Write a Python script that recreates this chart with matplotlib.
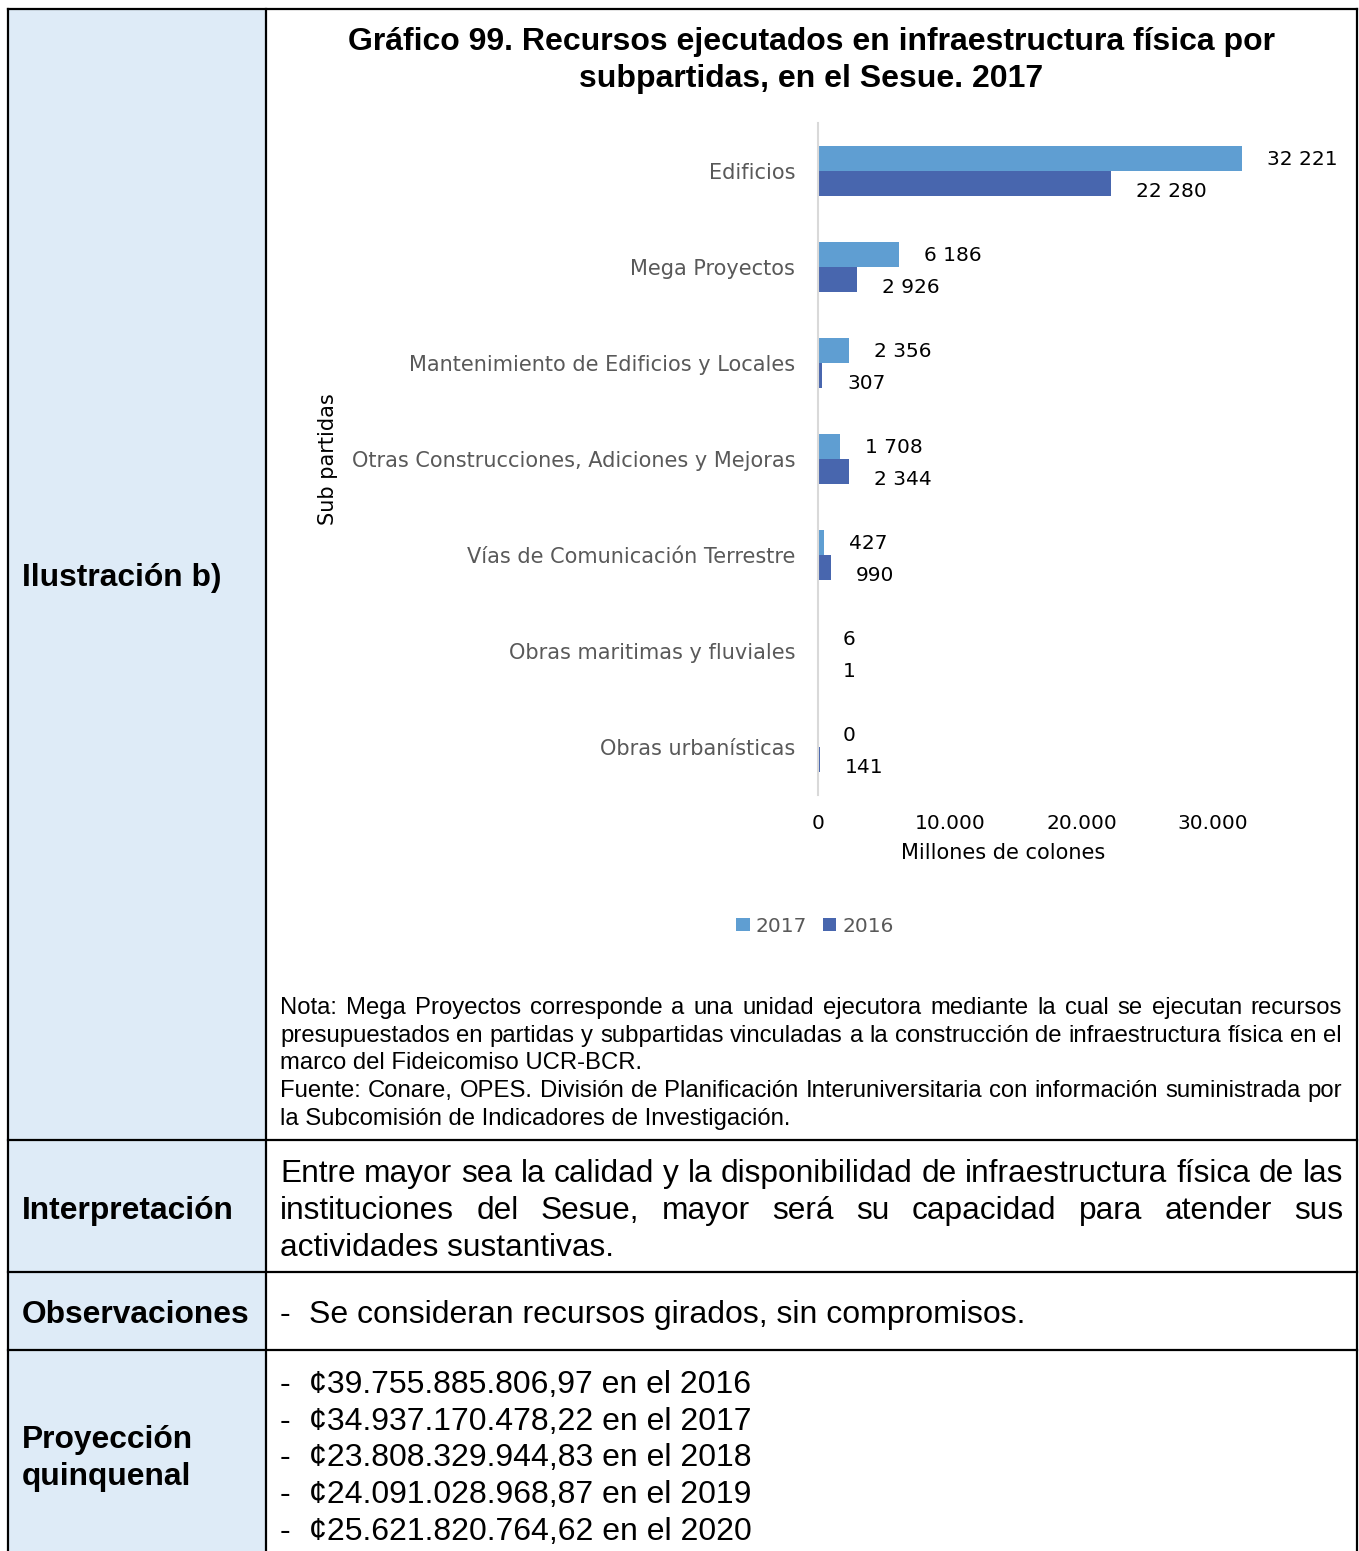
import matplotlib
matplotlib.use('Agg')
import matplotlib.pyplot as plt
from matplotlib.patches import Rectangle

W, H = 1359, 1551

# datos del grafico
categorias = ['Edificios', 'Mega Proyectos', 'Mantenimiento de Edificios y Locales',
              'Otras Construcciones, Adiciones y Mejoras', 'Vías de Comunicación Terrestre',
              'Obras maritimas y fluviales', 'Obras urbanísticas']
v2017 = [32221, 6186, 2356, 1708, 427, 6, 0]
v2016 = [22280, 2926, 307, 2344, 990, 1, 141]
xticks = [0, 10000, 20000, 30000]
xtick_labels = ['0', '10.000', '20.000', '30.000']

titulo = ['Gráfico 99. Recursos ejecutados en infraestructura física por',
          'subpartidas, en el Sesue. 2017']
nota = [('Nota: Mega Proyectos corresponde a una unidad ejecutora mediante la cual se ejecutan recursos', True),
        ('presupuestados en partidas y subpartidas vinculadas a la construcción de infraestructura física en el', True),
        ('marco del Fideicomiso UCR-BCR.', False),
        ('Fuente: Conare, OPES. División de Planificación Interuniversitaria con información suministrada por', True),
        ('la Subcomisión de Indicadores de Investigación.', False)]
interpretacion = [('Entre mayor sea la calidad y la disponibilidad de infraestructura física de las', True),
                  ('instituciones del Sesue, mayor será su capacidad para atender sus', True),
                  ('actividades sustantivas.', False)]
observacion = 'Se consideran recursos girados, sin compromisos.'
proyeccion = ['¢39.755.885.806,97 en el 2016', '¢34.937.170.478,22 en el 2017',
              '¢23.808.329.944,83 en el 2018', '¢24.091.028.968,87 en el 2019',
              '¢25.621.820.764,62 en el 2020']

c2017 = '#5F9ED2'
c2016 = '#4866AE'
TF = 'Liberation Sans'
CF = 'DejaVu Sans'
dy = 3  # ajuste vertical del texto de la tabla

fig = plt.figure(figsize=(W / 100, H / 100), dpi=100)
bg = fig.add_axes([0, 0, 1, 1])
bg.set_xlim(0, W)
bg.set_ylim(H, 0)
bg.axis('off')
r = fig.canvas.get_renderer()

# tabla
bg.add_patch(Rectangle((8, 9), 258, H, facecolor='#DEEBF7', edgecolor='none'))
lw = 1.6
for x in [8, 266, 1357]:
    bg.plot([x, x], [9, H], color='black', lw=lw)
for y in [9, 1140, 1272, 1350]:
    bg.plot([8, 1357], [y, y], color='black', lw=lw)


def linea(txt, y, x0, x1, size, justify):
    if not justify:
        bg.text(x0, y, txt, fontsize=size, family=TF, va='center', ha='left')
        return
    words = txt.split()
    ts = [bg.text(0, y, w, fontsize=size, family=TF, va='center', ha='left') for w in words]
    ws = [t.get_window_extent(r).width for t in ts]
    gap = (x1 - x0 - sum(ws)) / (len(words) - 1)
    x = x0
    for t, w in zip(ts, ws):
        t.set_x(x)
        x += w + gap


# columna izquierda
for txt, y in [('Ilustración b)', 575), ('Interpretación', 1208), ('Observaciones', 1312),
               ('Proyección', 1437), ('quinquenal', 1474)]:
    bg.text(22, y + dy, txt, fontsize=22.9, family=TF, weight='bold', va='center')

for txt, y in zip(titulo, [39, 76]):
    bg.text(811, y + dy, txt, fontsize=23, family=TF, weight='bold', va='center', ha='center')

for (txt, j), y in zip(nota, [1006, 1034, 1061, 1089, 1117]):
    linea(txt, y + 2, 280, 1342, 17.2, j)
for (txt, j), y in zip(interpretacion, [1171, 1208, 1245]):
    linea(txt, y + dy, 280, 1343, 22.8, j)

bg.text(280, 1312 + dy, '-', fontsize=23, family=TF, va='center')
bg.text(309, 1312 + dy, observacion, fontsize=23, family=TF, va='center')
for txt, y in zip(proyeccion, [1382, 1419, 1455, 1492, 1529]):
    bg.text(280, y + dy, '-', fontsize=23, family=TF, va='center')
    bg.text(309, y + dy, txt, fontsize=23, family=TF, va='center')

# grafico de barras
x0, x1, y0, y1 = 818, 1279, 123, 795
ax = fig.add_axes([x0 / W, 1 - y1 / H, (x1 - x0) / W, (y1 - y0) / H])
ax.set_facecolor('none')
pos = list(range(len(categorias)))
h = 0.26
b17 = ax.barh([p - h / 2 for p in pos], v2017, height=h, color=c2017, label='2017')
b16 = ax.barh([p + h / 2 for p in pos], v2016, height=h, color=c2016, label='2016')
ax.set_xlim(0, 35000)
ax.set_ylim(len(categorias) - 0.5, -0.5)
ax.set_yticks(pos)
ax.set_yticklabels(categorias, fontsize=15, family=CF, color='#595959')
ax.set_xticks(xticks)
ax.set_xticklabels(xtick_labels, fontsize=14.5, family=CF, color='black')
ax.tick_params(axis='y', length=0, pad=16.5)
ax.tick_params(axis='x', length=0, pad=14)
for s in ['top', 'right', 'bottom']:
    ax.spines[s].set_visible(False)
ax.spines['left'].set_color('#D9D9D9')
ax.spines['left'].set_linewidth(1.5)

fmt = lambda v: f'{v:,}'.replace(',', ' ')
for p, v in zip(pos, v2017):
    ax.annotate(fmt(v), (v, p - h / 2), xytext=(25, -1), textcoords='offset pixels',
                ha='left', va='center', fontsize=14.5, family=CF)
for p, v in zip(pos, v2016):
    ax.annotate(fmt(v), (v, p + h / 2), xytext=(25, -8), textcoords='offset pixels',
                ha='left', va='center', fontsize=14.5, family=CF)

ax.set_xlabel('Millones de colones', fontsize=15, family=CF, va='center')
ax.xaxis.set_label_coords((1003 - x0) / (x1 - x0), -(853 - y1) / (y1 - y0))
ax.set_ylabel('Sub partidas', fontsize=15, family=CF, va='center')
ax.yaxis.set_label_coords((328 - x0) / (x1 - x0), 0.5)

leg = fig.legend(handles=[b17, b16], loc='center', bbox_to_anchor=(815 / W, 1 - 926 / H),
                 ncol=2, frameon=False, handlelength=0.65, handleheight=0.65,
                 columnspacing=0.8, handletextpad=0.3, prop={'family': CF, 'size': 14.5})
for t in leg.get_texts():
    t.set_color('#595959')

fig.savefig('out.png', dpi=100)
